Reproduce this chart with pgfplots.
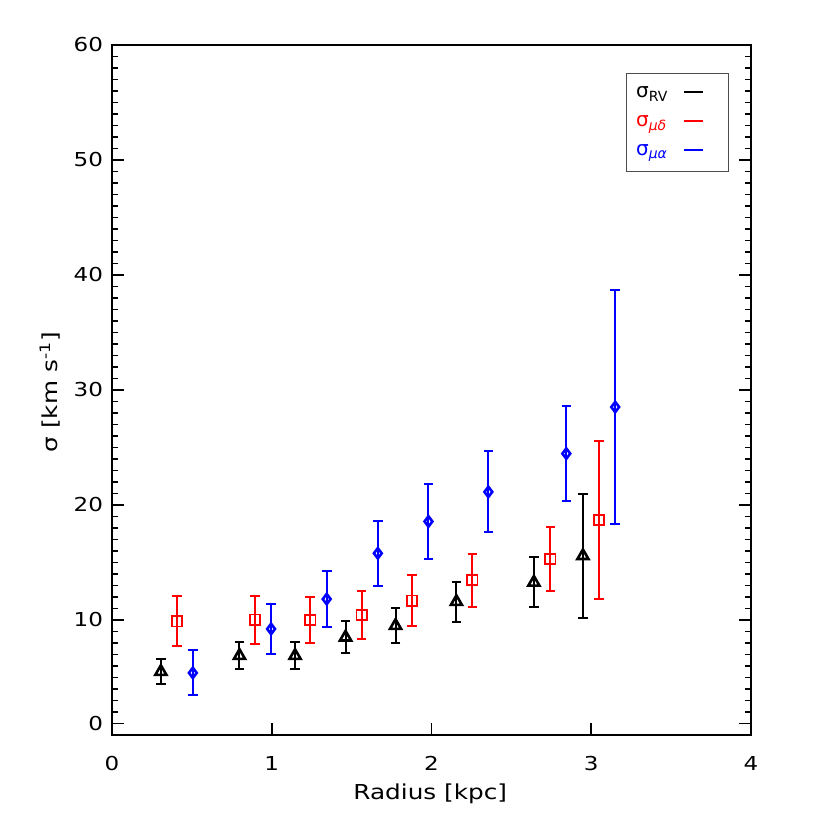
\documentclass[border=0pt]{standalone}
\usepackage{pgfplots}
\pgfplotsset{compat=1.18}
\usetikzlibrary{calc}
\usepackage{fontspec}
\setmainfont{DejaVu Sans}[FakeStretch=1.2]
\newfontfamily\legfont{DejaVu Sans}
\begin{document}
\begin{tikzpicture}[x=1pt,y=1pt]
\begin{axis}[
  scale only axis,
  width=319.5pt, height=345pt,
  xmin=0, xmax=4, ymin=0, ymax=60,
  xtick={0,1,2,3,4},
  xtick pos=bottom,
  ytick={1,10,20,30,40,50,60},
  yticklabels={0,10,20,30,40,50,60},
  minor ytick={2,3,...,59},
  tick align=inside,
  major tick length=6pt,
  minor tick length=3.2pt,
  every tick/.style={black, line width=0.8pt},
  axis line style={line width=0.9pt},
  /pgf/number format/assume math mode=true,
  ticklabel style={font=\fontsize{9.6}{12}\selectfont},
  xticklabel style={yshift=-7pt},
  yticklabel style={xshift=-1pt},
  xlabel={Radius [kpc]},
  ylabel={σ [km\ s\textsuperscript{-1}]},
  label style={font=\fontsize{10.3}{12}\selectfont},
  xlabel style={at={(rel axis cs:0.498,-0.0855)}, anchor=center},
  ylabel style={at={(rel axis cs:-0.097,0.497)}, anchor=center},
  legend style={at={(0.9655,0.959)}, anchor=north east, draw=black!70,
    line width=0.6pt, font=\legfont\fontsize{10}{12}\selectfont,
    inner xsep=3pt, inner ysep=4.5pt, row sep=3.5pt},
  legend plot pos=right,
  legend cell align=left,
  legend image code/.code={\path[draw=none,fill=none] (0pt,-2pt) rectangle (25pt,2pt);
    \draw[#1, line width=0.8pt] (6pt,1pt) -- (15.5pt,1pt);},
  clip=false,
]
\addplot[black, only marks, mark=triangle, mark size=3.2pt,
  mark options={line width=1.3pt, fill=white},
  error bars/.cd, y dir=both, y explicit,
  error bar style={line width=1pt},
  error mark options={rotate=90, mark size=2.4pt, line width=1pt}]
  table[x=x, y=y, y error=e] {
x y e
0.306 5.51 1.10
0.798 6.90 1.20
1.146 6.90 1.20
1.462 8.50 1.37
1.775 9.51 1.50
2.156 11.59 1.75
2.641 13.27 2.17
2.948 15.58 5.38
};
\addlegendentry{\textcolor{black}{σ\textsubscript{RV}}}
\addplot[red, only marks, mark=square, mark size=2.6pt,
  mark options={line width=0.9pt, fill=white},
  error bars/.cd, y dir=both, y explicit,
  error bar style={line width=1pt},
  error mark options={rotate=90, mark size=2.4pt, line width=1pt}]
  table[x=x, y=y, y error=e] {
x y e
0.406 9.89 2.17
0.896 10.03 2.10
1.241 10.00 1.97
1.563 10.43 2.07
1.879 11.68 2.20
2.256 13.47 2.30
2.744 15.30 2.77
3.048 18.71 6.89
};
\addlegendentry{\textcolor{red}{σ\textsubscript{\textit{μδ}}}}
\addplot[blue, only marks, mark=diamond, mark size=2.6pt,
  mark options={line width=1.3pt, fill=white},
  error bars/.cd, y dir=both, y explicit,
  error bar style={line width=1pt},
  error mark options={rotate=90, mark size=2.4pt, line width=1pt}]
  table[x=x, y=y, y error=e] {
x y e
0.506 5.40 1.95
0.996 9.22 2.20
1.344 11.82 2.40
1.664 15.80 2.85
1.981 18.57 3.23
2.356 21.14 3.53
2.844 24.47 4.15
3.150 28.52 10.17
};
\addlegendentry{\textcolor{blue}{σ\textsubscript{\textit{μα}}}}
\coordinate (SW) at (rel axis cs:0,0);
\coordinate (NE) at (rel axis cs:1,1);
\end{axis}
\pgfresetboundingbox
\path ($(SW)+(-56pt,-47.5pt)$) rectangle ($(NE)+(39.5pt,22.5pt)$);
\end{tikzpicture}
\end{document}
